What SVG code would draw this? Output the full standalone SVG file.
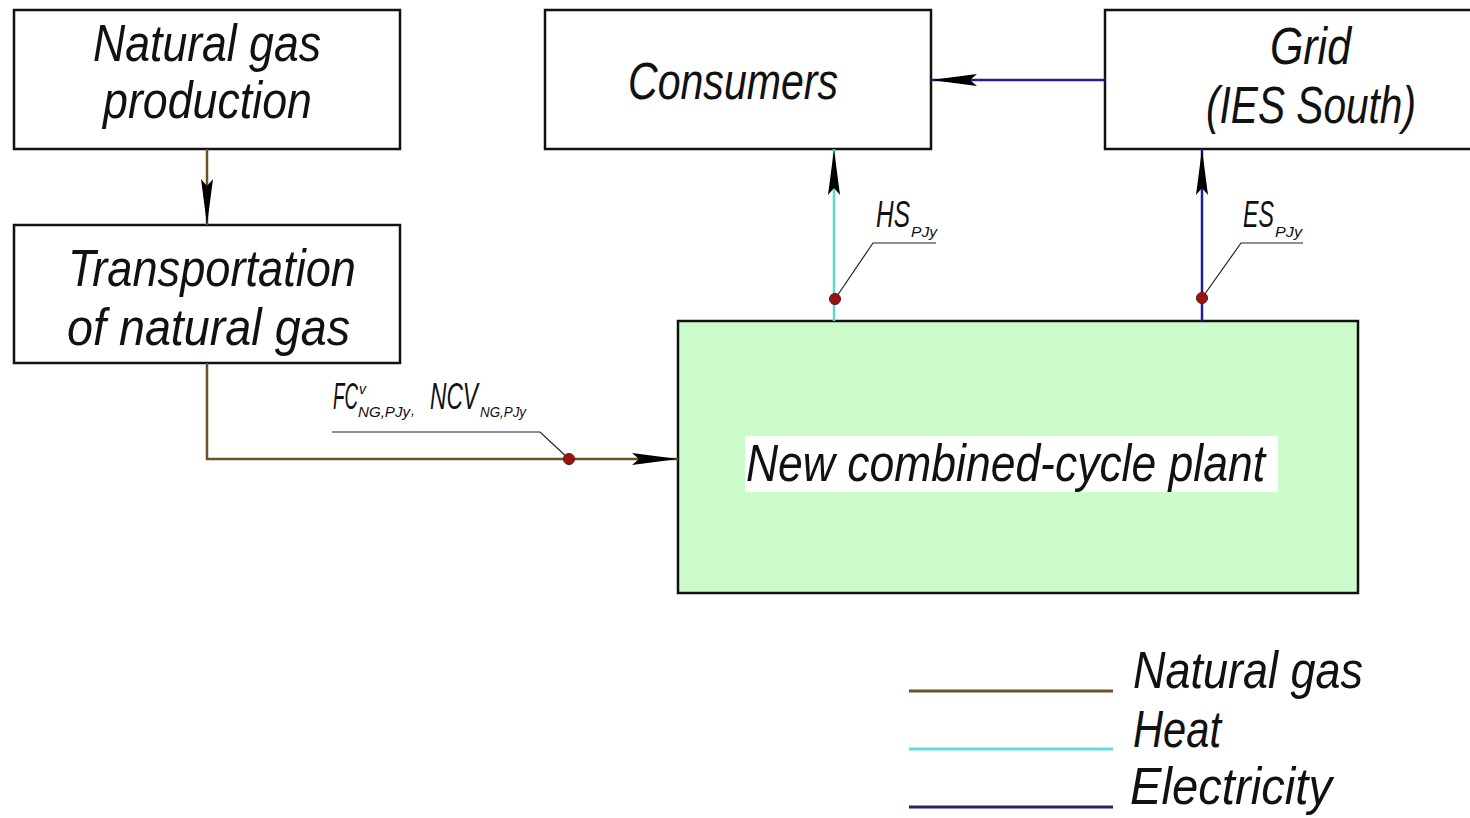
<svg xmlns="http://www.w3.org/2000/svg" width="1470" height="818" viewBox="0 0 1470 818">
<defs>
<style>
.box{fill:#fff;stroke:#111;stroke-width:2.5}
.t{font-family:"Liberation Sans","DejaVu Sans",sans-serif;font-style:italic;font-size:52px;fill:#111}
.lbl{font-family:"Liberation Sans","DejaVu Sans",sans-serif;font-style:italic;font-size:36px;fill:#111}
.s{font-size:14px}
.gas{fill:none;stroke:#6e5127;stroke-width:2.5}
.heat{fill:none;stroke:#5fd6d6;stroke-width:2.5}
.el{fill:none;stroke:#1e1e9a;stroke-width:2.5}
.lead{fill:none;stroke:#222;stroke-width:1.2}
.dot{fill:#9b1414;stroke:#6a0c0c;stroke-width:1}
</style>
<marker id="arr" markerUnits="userSpaceOnUse" markerWidth="46" markerHeight="14" viewBox="0 -7 46 14" refX="46" refY="0" orient="auto">
<path d="M46,0 L0,-6 L7,0 L0,6 Z" fill="#000"/>
</marker>
</defs>
<rect width="1470" height="818" fill="#fff"/>

<g id="node-production">
<rect class="box" x="14" y="10" width="386" height="139"/>
<text class="t" x="93" y="61" textLength="228" lengthAdjust="spacingAndGlyphs">Natural gas</text>
<text class="t" x="103" y="118" textLength="209" lengthAdjust="spacingAndGlyphs">production</text>
</g>

<g id="node-transport">
<rect class="box" x="14" y="225" width="386" height="138"/>
<text class="t" x="68" y="286" textLength="288" lengthAdjust="spacingAndGlyphs">Transportation</text>
<text class="t" x="67" y="345" textLength="283" lengthAdjust="spacingAndGlyphs">of natural gas</text>
</g>

<g id="node-consumers">
<rect class="box" x="545" y="10" width="386" height="139"/>
<text class="t" x="628" y="99" textLength="210" lengthAdjust="spacingAndGlyphs">Consumers</text>
</g>

<g id="node-grid">
<rect class="box" x="1105" y="10" width="380" height="139"/>
<text class="t" x="1270" y="64" textLength="81" lengthAdjust="spacingAndGlyphs">Grid</text>
<text class="t" x="1206" y="123" textLength="210" lengthAdjust="spacingAndGlyphs">(IES South)</text>
</g>

<g id="node-plant">
<rect x="678" y="321" width="680" height="272" fill="#ccfccc" stroke="#111" stroke-width="2.5"/>
<rect x="745" y="436" width="533" height="56" fill="#fff"/>
<text class="t" x="746" y="481" textLength="519" lengthAdjust="spacingAndGlyphs">New combined-cycle plant</text>
</g>

<g id="connectors">
<line class="gas" x1="207" y1="149" x2="207" y2="225" marker-end="url(#arr)"/>
<polyline class="gas" points="207,363 207,459 678,459" marker-end="url(#arr)"/>
<line class="heat" x1="834" y1="321" x2="834" y2="149" marker-end="url(#arr)"/>
<line class="el" x1="1202" y1="321" x2="1202" y2="149" marker-end="url(#arr)"/>
<line class="el" x1="1105" y1="80" x2="931" y2="80" marker-end="url(#arr)"/>

<polyline class="lead" points="569,459 540,432 332,432"/>
<circle class="dot" cx="569" cy="459" r="5.5"/>
<polyline class="lead" points="835,299 873,243 936,243"/>
<circle class="dot" cx="835" cy="299" r="5.5"/>
<polyline class="lead" points="1202,298 1241,243 1303,243"/>
<circle class="dot" cx="1202" cy="298" r="5.5"/>
</g>

<g id="labels">
<text class="lbl" x="333" y="409"><tspan textLength="25" lengthAdjust="spacingAndGlyphs">FC</tspan><tspan class="s" x="359" y="394" font-size="11">v</tspan><tspan class="s" x="358" y="417" textLength="52" lengthAdjust="spacingAndGlyphs">NG,PJy</tspan><tspan class="s" x="411" y="415">,</tspan><tspan x="430" y="409" textLength="48" lengthAdjust="spacingAndGlyphs">NCV</tspan><tspan class="s" x="480" y="417" textLength="46" lengthAdjust="spacingAndGlyphs">NG,PJy</tspan></text>
<text class="lbl" x="876" y="227"><tspan textLength="34" lengthAdjust="spacingAndGlyphs">HS</tspan><tspan class="s" x="911" y="237" textLength="26" lengthAdjust="spacingAndGlyphs">PJy</tspan></text>
<text class="lbl" x="1243" y="227"><tspan textLength="31" lengthAdjust="spacingAndGlyphs">ES</tspan><tspan class="s" x="1275" y="237" textLength="27" lengthAdjust="spacingAndGlyphs">PJy</tspan></text>
</g>

<g id="legend">
<line x1="909" y1="691" x2="1113" y2="691" stroke="#6e5127" stroke-width="3"/>
<line x1="909" y1="749" x2="1113" y2="749" stroke="#66dada" stroke-width="3"/>
<line x1="909" y1="807" x2="1113" y2="807" stroke="#24246e" stroke-width="3"/>
<text class="t" x="1133" y="688" textLength="230" lengthAdjust="spacingAndGlyphs">Natural gas</text>
<text class="t" x="1133" y="747" textLength="88" lengthAdjust="spacingAndGlyphs">Heat</text>
<text class="t" x="1130" y="804" textLength="202" lengthAdjust="spacingAndGlyphs">Electricity</text>
</g>
</svg>
